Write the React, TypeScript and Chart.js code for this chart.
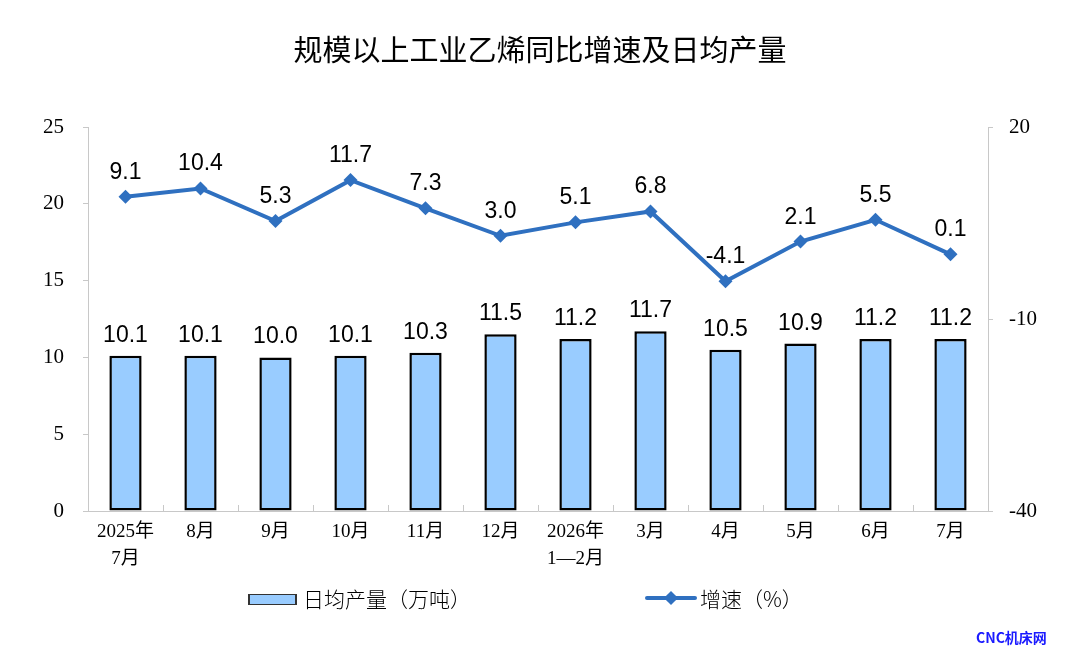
import { useEffect, useRef } from "react";
import { Chart, registerables } from "chart.js";

Chart.register(...registerables);

const categories: (string | string[])[] = [
  ["2025年", "7月"],
  "8月",
  "9月",
  "10月",
  "11月",
  "12月",
  ["2026年", "1—2月"],
  "3月",
  "4月",
  "5月",
  "6月",
  "7月",
];
const dailyOutput = [10.1, 10.1, 10.0, 10.1, 10.3, 11.5, 11.2, 11.7, 10.5, 10.9, 11.2, 11.2];
const growthRate = [9.1, 10.4, 5.3, 11.7, 7.3, 3.0, 5.1, 6.8, -4.1, 2.1, 5.5, 0.1];

const leftTicks = { min: 0, max: 25, step: 5 };
const rightTicks = { min: -40, max: 20, step: 30 };

const BAR_FILL = "#99ccff";
const LINE_BLUE = "#2f70c0";
const AXIS_GREY = "#c8c8c8";
const SERIF = "'Liberation Serif', 'Noto Sans CJK SC', serif";
const SANS = "'Liberation Sans', Arial, sans-serif";
const CJK = "'Noto Sans CJK SC', sans-serif";

// value labels over bars and points
const valueLabels = {
  id: "valueLabels",
  afterDatasetsDraw(chart: Chart) {
    const ctx = chart.ctx;
    ctx.save();
    ctx.font = `23px ${SANS}`;
    ctx.fillStyle = "#000";
    ctx.textAlign = "center";
    ctx.textBaseline = "alphabetic";
    chart.data.datasets.forEach((ds, i) => {
      const meta = chart.getDatasetMeta(i);
      const lift = meta.type === "bar" ? 14 : 18;
      meta.data.forEach((el: any, j: number) => {
        const v = ds.data[j] as number;
        ctx.fillText(v.toFixed(1), el.x, el.y - lift);
      });
    });
    ctx.restore();
  },
};

// small marks between categories, pointing into the plot
const categoryMarks = {
  id: "categoryMarks",
  afterDraw(chart: Chart) {
    const x = chart.scales.x;
    const area = chart.chartArea;
    const ctx = chart.ctx;
    const n = categories.length;
    const w = (area.right - area.left) / n;
    ctx.save();
    ctx.strokeStyle = AXIS_GREY;
    ctx.lineWidth = 1;
    for (let k = 1; k < n; k++) {
      const px = Math.round(x.getPixelForValue(k) - w / 2) + 0.5;
      ctx.beginPath();
      ctx.moveTo(px, area.bottom);
      ctx.lineTo(px, area.bottom - 6);
      ctx.stroke();
    }
    ctx.restore();
  },
};

function ComboChart() {
  const canvasRef = useRef<HTMLCanvasElement | null>(null);
  const chartInstance = useRef<Chart | null>(null);

  useEffect(() => {
    if (!canvasRef.current) return;
    if (chartInstance.current) chartInstance.current.destroy();

    chartInstance.current = new Chart(canvasRef.current, {
      type: "bar",
      data: {
        labels: categories,
        datasets: [
          {
            type: "line",
            label: "增速（%）",
            data: growthRate,
            yAxisID: "y1",
            borderColor: LINE_BLUE,
            backgroundColor: LINE_BLUE,
            borderWidth: 4,
            pointStyle: "rectRot",
            pointRadius: 7,
            pointBorderWidth: 0,
            pointBackgroundColor: LINE_BLUE,
            tension: 0,
            order: 0,
          },
          {
            type: "bar",
            label: "日均产量（万吨）",
            data: dailyOutput,
            yAxisID: "y",
            backgroundColor: BAR_FILL,
            borderColor: "#000",
            borderWidth: 2.5,
            borderSkipped: false,
            barPercentage: 0.43,
            categoryPercentage: 1,
            order: 1,
          },
        ],
      },
      options: {
        responsive: false,
        animation: false,
        layout: { padding: { top: 127, left: 0, right: 0, bottom: 0 } },
        plugins: {
          legend: { display: false },
          tooltip: { enabled: false },
          title: { display: false },
        },
        scales: {
          x: {
            offset: true,
            grid: { display: true, drawOnChartArea: false, drawTicks: false, color: AXIS_GREY },
            border: { color: AXIS_GREY },
            ticks: {
              color: "#000",
              font: { family: SERIF, size: 19, lineHeight: 1.4 },
              padding: 8,
              maxRotation: 0,
              autoSkip: false,
            },
            afterFit: (s: any) => {
              s.height = 157;
            },
          },
          y: {
            position: "left",
            min: leftTicks.min,
            max: leftTicks.max,
            grid: { drawOnChartArea: false, tickLength: 5, color: AXIS_GREY },
            border: { color: AXIS_GREY },
            ticks: {
              stepSize: leftTicks.step,
              color: "#000",
              font: { family: SERIF, size: 21 },
              padding: 19,
            },
            afterFit: (s: any) => {
              s.width = 88;
            },
          },
          y1: {
            position: "right",
            min: rightTicks.min,
            max: rightTicks.max,
            grid: { drawOnChartArea: false, tickLength: 5, color: AXIS_GREY },
            border: { color: AXIS_GREY },
            ticks: {
              stepSize: rightTicks.step,
              color: "#000",
              font: { family: SERIF, size: 21 },
              padding: 16,
            },
            afterFit: (s: any) => {
              s.width = 92;
            },
          },
        },
      },
      plugins: [valueLabels, categoryMarks],
    });

    return () => {
      chartInstance.current?.destroy();
      chartInstance.current = null;
    };
  }, []);

  return <canvas ref={canvasRef} width={1080} height={668} style={{ position: "absolute", left: 0, top: 0 }} />;
}

export default function App() {
  useEffect(() => {
    document.body.style.margin = "0";
  }, []);

  return (
    <div style={{ position: "relative", width: 1080, height: 668, background: "#fff", overflow: "hidden" }}>
      <ComboChart />
      <div
        style={{
          position: "absolute",
          top: 28,
          left: 0,
          width: 1080,
          textAlign: "center",
          fontFamily: CJK,
          fontSize: 29,
          fontWeight: 400,
          color: "#000",
          lineHeight: "40px",
        }}
      >
        规模以上工业乙烯同比增速及日均产量
      </div>

      {/* legend */}
      <div style={{ position: "absolute", left: 248, top: 594, width: 49, height: 11, background: BAR_FILL, border: "1px solid #333", borderLeftWidth: 2, borderRightWidth: 2, boxSizing: "border-box" }} />
      <div style={{ position: "absolute", left: 303, top: 584, fontFamily: CJK, fontSize: 21, fontWeight: 300, lineHeight: "28px", color: "#000" }}>
        日均产量（万吨）
      </div>
      <div style={{ position: "absolute", left: 645, top: 596, width: 52, height: 4, background: LINE_BLUE, borderRadius: 2 }} />
      <div style={{ position: "absolute", left: 666, top: 593, width: 10, height: 10, background: LINE_BLUE, transform: "rotate(45deg)" }} />
      <div style={{ position: "absolute", left: 700, top: 584, fontFamily: CJK, fontSize: 21, fontWeight: 300, lineHeight: "28px", color: "#000" }}>
        增速（%）
      </div>

      <div style={{ position: "absolute", left: 976, top: 628, fontFamily: CJK, fontSize: 14, fontWeight: 700, color: "#1a1aff", lineHeight: "18px" }}>
        CNC机床网
      </div>
    </div>
  );
}
